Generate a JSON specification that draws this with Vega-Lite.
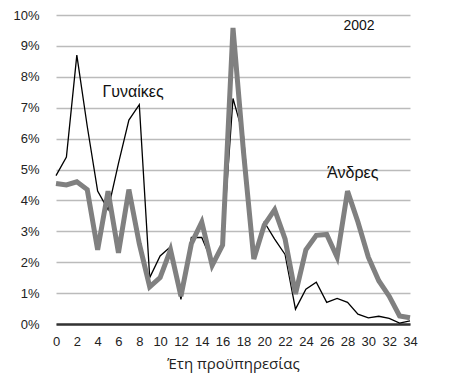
{
  "$schema": "https://vega.github.io/schema/vega-lite/v6.json",
  "autosize": "none",
  "width": 354,
  "height": 309,
  "padding": {"left": 56, "top": 15, "right": 51, "bottom": 57},
  "background": "white",
  "config": {
    "view": {"stroke": null},
    "font": "Liberation Sans"
  },
  "datasets": {
    "women": [
      {"years": 0, "share": 0.048}, {"years": 1, "share": 0.054}, {"years": 2, "share": 0.087},
      {"years": 3, "share": 0.064}, {"years": 4, "share": 0.043}, {"years": 5, "share": 0.037},
      {"years": 6, "share": 0.052}, {"years": 7, "share": 0.066}, {"years": 8, "share": 0.071},
      {"years": 9, "share": 0.015}, {"years": 10, "share": 0.022}, {"years": 11, "share": 0.025},
      {"years": 12, "share": 0.008}, {"years": 13, "share": 0.028}, {"years": 14, "share": 0.028},
      {"years": 15, "share": 0.020}, {"years": 16, "share": 0.025}, {"years": 17, "share": 0.073},
      {"years": 18, "share": 0.061}, {"years": 19, "share": 0.022}, {"years": 20, "share": 0.033},
      {"years": 21, "share": 0.0275}, {"years": 22, "share": 0.0225}, {"years": 23, "share": 0.0048},
      {"years": 24, "share": 0.0113}, {"years": 25, "share": 0.0135}, {"years": 26, "share": 0.007},
      {"years": 27, "share": 0.0083}, {"years": 28, "share": 0.007}, {"years": 29, "share": 0.0032},
      {"years": 30, "share": 0.002}, {"years": 31, "share": 0.0025}, {"years": 32, "share": 0.0018},
      {"years": 33, "share": 0.0003}, {"years": 34, "share": 0.001}
    ],
    "men": [
      {"years": 0, "share": 0.0455}, {"years": 1, "share": 0.045}, {"years": 2, "share": 0.046},
      {"years": 3, "share": 0.0435}, {"years": 4, "share": 0.024}, {"years": 5, "share": 0.043},
      {"years": 6, "share": 0.023}, {"years": 7, "share": 0.0435}, {"years": 8, "share": 0.026},
      {"years": 9, "share": 0.012}, {"years": 10, "share": 0.015}, {"years": 11, "share": 0.024},
      {"years": 12, "share": 0.009}, {"years": 13, "share": 0.026}, {"years": 14, "share": 0.033},
      {"years": 15, "share": 0.019}, {"years": 16, "share": 0.0255}, {"years": 17, "share": 0.0958},
      {"years": 18, "share": 0.056}, {"years": 19, "share": 0.021}, {"years": 20, "share": 0.032},
      {"years": 21, "share": 0.037}, {"years": 22, "share": 0.0275}, {"years": 23, "share": 0.0097},
      {"years": 24, "share": 0.024}, {"years": 25, "share": 0.0287}, {"years": 26, "share": 0.029},
      {"years": 27, "share": 0.0216}, {"years": 28, "share": 0.043}, {"years": 29, "share": 0.033},
      {"years": 30, "share": 0.0216}, {"years": 31, "share": 0.014}, {"years": 32, "share": 0.009},
      {"years": 33, "share": 0.0026}, {"years": 34, "share": 0.002}
    ],
    "labels": [
      {"text": "Γυναίκες", "years": 7.4, "share": 0.075, "size": 16},
      {"text": "Άνδρες", "years": 28.5, "share": 0.049, "size": 16},
      {"text": "2002", "years": 29.1, "share": 0.0965, "size": 14}
    ]
  },
  "encoding": {
    "x": {
      "field": "years", "type": "quantitative",
      "scale": {"domain": [0, 34], "nice": false, "zero": false},
      "axis": {
        "title": "Έτη προϋπηρεσίας",
        "titleFont": "Open Sans", "titleFontSize": 15, "titleFontWeight": "normal",
        "titleColor": "#222222", "titlePadding": 8,
        "values": [0, 2, 4, 6, 8, 10, 12, 14, 16, 18, 20, 22, 24, 26, 28, 30, 32, 34],
        "tickCount": 18,
        "labelFontSize": 13, "labelColor": "#222222", "labelPadding": 11,
        "labelOverlap": false, "labelFlush": false, "labelBound": false,
        "ticks": false, "grid": false,
        "domainColor": "#333333", "domainWidth": 2.5
      }
    },
    "y": {
      "field": "share", "type": "quantitative",
      "scale": {"domain": [0, 0.1], "nice": false},
      "axis": {
        "title": null, "format": ".0%",
        "values": [0, 0.01, 0.02, 0.03, 0.04, 0.05, 0.06, 0.07, 0.08, 0.09, 0.1],
        "tickCount": 11,
        "labelFontSize": 13, "labelColor": "#222222", "labelPadding": 17,
        "labelOverlap": false, "labelFlush": false, "labelBound": false,
        "ticks": false, "domain": false,
        "grid": true, "gridColor": "#bbbbbb", "gridWidth": 1.5
      }
    }
  },
  "layer": [
    {
      "data": {"name": "women"},
      "mark": {"type": "line", "color": "#000000", "strokeWidth": 1.3}
    },
    {
      "data": {"name": "men"},
      "mark": {"type": "line", "color": "#808080", "strokeWidth": 5}
    },
    {
      "data": {"name": "labels"},
      "mark": {"type": "text", "color": "#111111", "align": "center", "baseline": "middle"},
      "encoding": {
        "text": {"field": "text"},
        "size": {"field": "size", "type": "quantitative", "scale": null}
      }
    }
  ]
}
